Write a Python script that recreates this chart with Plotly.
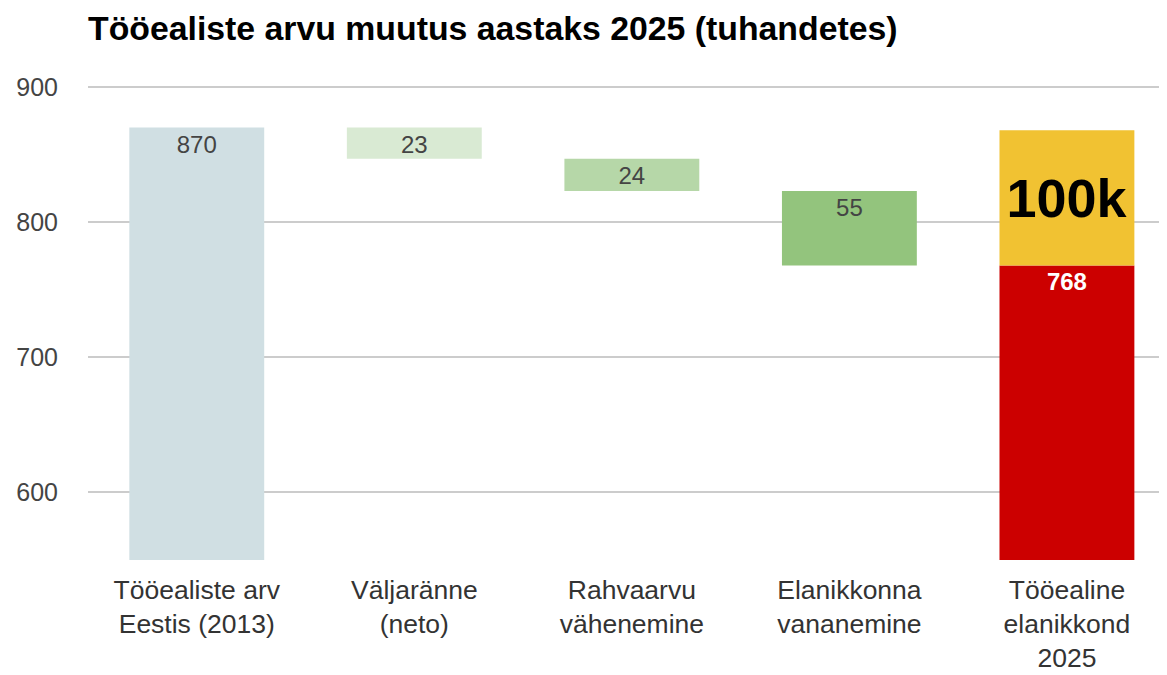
import plotly.graph_objects as go

categories = ["Tööealiste arv<br>Eestis (2013)", "Väljaränne<br>(neto)", "Rahvaarvu<br>vähenemine",
              "Elanikkonna<br>vananemine", "Tööealine<br>elanikkond<br>2025"]
start_2013 = 870
changes = [23, 24, 55]
result_2025 = 768
gap_value = 100
gap_label = "100k"
axis_min = 550
tick_vals = [600, 700, 800, 900]

# floating bar bases from the running total
bases = [axis_min]
heights = [start_2013 - axis_min]
labels = [str(start_2013)]
running = start_2013
for c in changes:
    running -= c
    bases.append(running)
    heights.append(c)
    labels.append(str(c))

colors = ["#d0dfe3", "#d9ead3", "#b6d7a8", "#93c47d"]
FONT = "Liberation Sans, Arial"

fig = go.Figure()
fig.add_trace(go.Bar(
    x=list(range(4)), y=heights, base=bases, marker=dict(color=colors, line=dict(width=0)),
    text=labels, textposition="inside", insidetextanchor="end", textangle=0,
    textfont=dict(size=24, color="#444444", family=FONT),
    width=0.62, constraintext="none", hoverinfo="skip"))
fig.add_trace(go.Bar(
    x=[4], y=[result_2025 - axis_min], base=[axis_min], marker=dict(color="#cc0000", line=dict(width=0)),
    text=[f"<b>{result_2025}</b>"], textposition="inside", insidetextanchor="end", textangle=0,
    textfont=dict(size=24, color="white", family=FONT),
    width=0.62, constraintext="none", hoverinfo="skip"))
fig.add_trace(go.Bar(
    x=[4], y=[gap_value], base=[result_2025], marker=dict(color="#f1c232", line=dict(width=0)),
    text=[f"<b>{gap_label}</b>"], textposition="inside", insidetextanchor="middle", textangle=0,
    textfont=dict(size=54, color="black", family=FONT),
    width=0.62, constraintext="none", hoverinfo="skip"))

fig.update_layout(
    width=1159, height=667, barmode="overlay", showlegend=False,
    plot_bgcolor="white", paper_bgcolor="white",
    margin=dict(l=80, r=0, t=52, b=115, autoexpand=False),
    title=dict(text="<b>Tööealiste arvu muutus aastaks 2025 (tuhandetes)</b>",
               x=80/1159, xanchor="left", y=1 - 20/667, yanchor="middle",
               font=dict(size=33.8, color="black", family=FONT)),
    font=dict(family=FONT),
)
fig.update_xaxes(range=[-0.5, 4.46], tickvals=list(range(5)), ticktext=categories,
                 showgrid=False, zeroline=False, showline=False, ticks="", automargin=False,
                 tickfont=dict(size=26.5, color="#333333"), ticklabelstandoff=11)
fig.update_yaxes(range=[axis_min, 920], tickvals=tick_vals, showgrid=True, gridcolor="#cccccc",
                 gridwidth=2, zeroline=False, showline=False, ticks="", automargin=False,
                 tickfont=dict(size=25, color="#444444"), ticklabelstandoff=29)

fig.write_html("out.html")
